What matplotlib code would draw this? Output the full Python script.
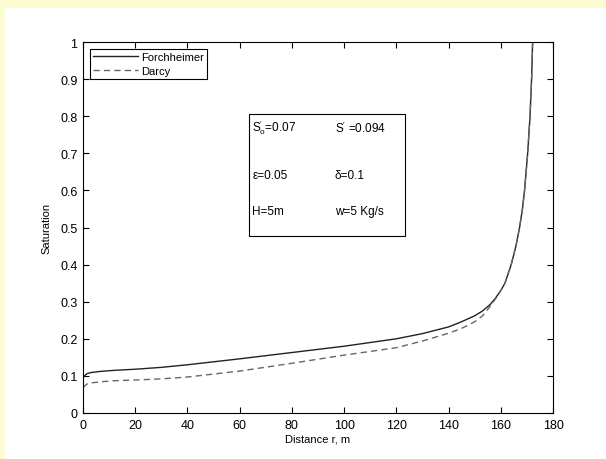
import matplotlib
matplotlib.use("Agg")
import matplotlib.pyplot as plt
from matplotlib.patches import Rectangle

plt.rcParams['font.family'] = ['Liberation Sans', 'DejaVu Sans']
plt.rcParams['mathtext.fontset'] = 'custom'
plt.rcParams['mathtext.rm'] = 'Liberation Sans'
plt.rcParams['mathtext.it'] = 'Liberation Sans'

# Data
forch_x = [0, 0.5, 1.5, 3, 6.5, 12, 20, 30, 40, 50, 60, 80, 100, 120, 130, 140,
           145, 150, 153, 156, 158, 160, 161.6, 164.0, 165.8, 167.2, 168.3,
           169.1, 170.3, 171.2, 171.8, 172.2]
forch_y = [0.095, 0.100, 0.106, 0.109, 0.112, 0.115, 0.118, 0.123, 0.130, 0.138,
           0.146, 0.163, 0.180, 0.200, 0.214, 0.232, 0.246, 0.262, 0.275, 0.293,
           0.310, 0.330, 0.350, 0.400, 0.450, 0.500, 0.550, 0.600, 0.700, 0.800,
           0.900, 1.000]
darcy_x = [0, 0.5, 1.5, 3, 6.5, 12, 20, 30, 40, 50, 60, 80, 100, 120, 130, 140,
           145, 150, 153, 156, 158, 160, 161.6, 164.0, 165.8, 167.2, 168.3,
           169.1, 170.3, 171.2, 171.8, 172.2]
darcy_y = [0.068, 0.072, 0.078, 0.081, 0.084, 0.087, 0.089, 0.092, 0.097, 0.105,
           0.113, 0.134, 0.156, 0.176, 0.194, 0.215, 0.228, 0.246, 0.262, 0.288,
           0.308, 0.330, 0.350, 0.400, 0.450, 0.500, 0.550, 0.600, 0.700, 0.800,
           0.900, 1.000]
series_labels = ['Forchheimer', 'Darcy']
x_ticks = [0, 20, 40, 60, 80, 100, 120, 140, 160, 180]
y_ticks = [0, 0.1, 0.2, 0.3, 0.4, 0.5, 0.6, 0.7, 0.8, 0.9, 1]
y_ticklabels = ['0', '0.1', '0.2', '0.3', '0.4', '0.5', '0.6', '0.7', '0.8', '0.9', '1']
box_texts = [r'$\mathregular{S^{\prime}_{o}}$=0.07', r'$\mathregular{S^{\prime}}$ =0.094',
             'ε=0.05', 'δ=0.1', 'H=5m', 'w=5 Kg/s']

fig = plt.figure(figsize=(6.06, 4.60), dpi=100)
fig.patch.set_facecolor('#FDFBD2')
bg = Rectangle((5 / 606, 0), 1 - 5 / 606, 1 - 9 / 460,
               transform=fig.transFigure, facecolor='white',
               edgecolor='none', zorder=-10)
fig.patches.append(bg)

ax = fig.add_axes([83 / 606, 46 / 460, 470 / 606, 371 / 460])
ax.set_zorder(5)
ax.plot(forch_x, forch_y, color='#222222', lw=1.0, label=series_labels[0])
ax.plot(darcy_x, darcy_y, color='#666666', lw=1.0, dashes=(4.5, 3),
        label=series_labels[1])

ax.set_xlim(0, 180)
ax.set_ylim(0, 1)
ax.set_xticks(x_ticks)
ax.set_xticklabels([str(v) for v in x_ticks])
ax.set_yticks(y_ticks)
ax.set_yticklabels(y_ticklabels)
ax.tick_params(direction='in', length=4, width=0.8, top=True, right=True,
               labelsize=9, pad=4, colors='black')
for s in ax.spines.values():
    s.set_linewidth(0.8)
ax.set_xlabel('Distance r, m', fontsize=8, labelpad=2)
ax.set_ylabel('Saturation', fontsize=8, labelpad=6)

leg = ax.legend(loc='upper left', bbox_to_anchor=(0.0149, 0.981),
                borderaxespad=0, fontsize=8, handlelength=4.0,
                labelspacing=0.3, handletextpad=0.3, borderpad=0.3,
                fancybox=False, framealpha=1)
leg.get_frame().set_edgecolor('black')
leg.get_frame().set_linewidth(0.8)

ax.add_patch(Rectangle((0.353, 0.477), 0.332, 0.329, transform=ax.transAxes,
                       facecolor='white', edgecolor='black', lw=0.8, zorder=3))
pos = [(0.36, 0.771), (0.536, 0.771), (0.36, 0.642), (0.536, 0.642),
       (0.36, 0.544), (0.536, 0.544)]
for (px, py), t in zip(pos, box_texts):
    ax.text(px, py, t, transform=ax.transAxes, fontsize=8.5, va='center',
            ha='left', zorder=4)

fig.savefig('out.png', dpi=100, facecolor=fig.get_facecolor())
